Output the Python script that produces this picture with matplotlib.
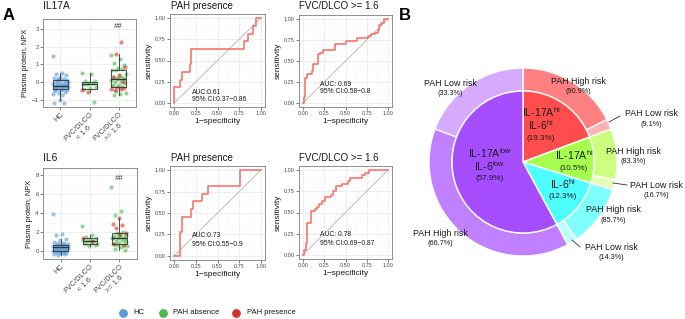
import numpy as np
import matplotlib
matplotlib.use('Agg')
import matplotlib.pyplot as plt

plt.rcParams['font.family'] = ['Liberation Sans', 'DejaVu Sans']
plt.rcParams['mathtext.fontset'] = 'custom'
plt.rcParams['mathtext.rm'] = 'Liberation Sans'
plt.rcParams['mathtext.it'] = 'Liberation Sans:italic'
plt.rcParams['mathtext.bf'] = 'Liberation Sans:bold'

# ---------------- data ----------------
groups = ['HC', 'FVC/DLCO\n< 1.6', 'FVC/DLCO\n>= 1.6']

hc_il17a = [1.48, 0.52, 0.45, 0.38, 0.30, 0.22, 0.15, 0.10, 0.11, 0.09, 0.0, -0.03, -0.06,
            -0.09, -0.12, -0.14, -0.17, -0.19, -0.21, -0.23, -0.25, -0.27, -0.29, -0.31,
            -0.33, -0.36, -0.38, -0.40, -0.42, -0.45, -0.48, -0.52, -0.56, -0.60, -0.66,
            -0.72, 0.12, -0.15, -1.00, -1.18, -1.22, 0.18, -0.02, -0.22, -0.35]
lt_il17a_pah_abs = [0.50, 0.47, 0.08, 0.03, -0.05, -0.10, -0.08, -0.12, -0.30, -0.36, -0.40, -1.15]
lt_il17a_pah_pres = [-0.58, -0.45]
ge_il17a_pah_abs = [1.55, 1.30, 1.10, 0.95, 0.78, 0.70, 0.74, 0.68, 0.45, 0.35, 0.28, 0.22,
                    0.18, 0.12, 0.08, 0.0, -0.08, -0.15, -0.22, -0.28, -0.50, -0.60, -0.68,
                    -0.75, 0.15, 0.25, -0.20]
ge_il17a_pah_pres = [2.25, 1.60, 0.85, 0.40, 0.30, 0.02, -0.30, -0.38, -0.42, -0.48, -0.35]

hc_il6 = [3.90, 1.80, 1.72, 1.30, 1.15, 1.00, 0.92, 0.85, 0.80, 0.76, 0.72, 0.68, 0.64,
          0.60, 0.56, 0.52, 0.48, 0.45, 0.42, 0.40, 0.38, 0.35, 0.46, 0.28, 0.25, 0.22,
          0.18, 0.15, 0.12, 0.10, 0.08, 0.06, 0.04, 0.02, 0.0, -0.05, -0.10, -0.15,
          -0.20, -0.25, -0.30, -0.35, 0.55, 0.50, 0.58]
lt_il6_pah_abs = [2.65, 1.75, 1.50, 1.40, 1.30, 1.20, 1.08, 1.05, 0.78, 0.85, 0.80, 0.65, 0.55]
lt_il6_pah_pres = [1.45, 1.10]
ge_il6_pah_abs = [6.80, 4.30, 3.80, 1.20, 1.70, 1.40, 2.00, 1.95, 1.75, 1.65, 1.58, 1.50,
                  1.45, 1.38, 1.25, 1.10, 1.00, 0.90, 0.75, 0.70, 0.65, 0.55, 0.45, 0.30, 0.10]
ge_il6_pah_pres = [3.50, 2.85, 2.78, 2.45, 1.90, 1.80, 0.74, 0.72]

roc_il17a_pah_fpr = [0, 0, 0.067, 0.09, 0.176, 0.196, 0.81, 0.85, 0.91, 0.95, 1.0]
roc_il17a_pah_tpr = [0, 0.182, 0.273, 0.364, 0.455, 0.636, 0.727, 0.818, 0.909, 1.0, 1.0]
roc_il17a_fvc_fpr = [0, 0.01, 0.02, 0.04, 0.10, 0.12, 0.17, 0.20, 0.23, 0.37, 0.50, 0.64,
                     0.77, 0.80, 0.85, 0.89, 0.90, 0.92, 0.95, 1.0]
roc_il17a_fvc_tpr = [0, 0.07, 0.30, 0.35, 0.38, 0.47, 0.58, 0.60, 0.63, 0.70, 0.74, 0.78,
                     0.80, 0.82, 0.84, 0.87, 0.93, 0.96, 1.0, 1.0]
roc_il6_pah_fpr = [0, 0.067, 0.086, 0.196, 0.216, 0.325, 0.39, 0.765, 1.0]
roc_il6_pah_tpr = [0, 0.273, 0.455, 0.545, 0.636, 0.727, 0.818, 1.0, 1.0]
roc_il6_fvc_fpr = [0, 0.011, 0.03, 0.046, 0.095, 0.134, 0.16, 0.19, 0.218, 0.26, 0.324,
                   0.35, 0.39, 0.458, 0.527, 0.553, 0.695, 0.733, 0.78, 1.0]
roc_il6_fvc_tpr = [0, 0.055, 0.145, 0.37, 0.52, 0.54, 0.56, 0.60, 0.635, 0.68, 0.71, 0.75,
                   0.81, 0.84, 0.87, 0.91, 0.94, 0.97, 1.0, 1.0]

roc_auc = ['AUC:0.61', 'AUC: 0.69', 'AUC:0.73', 'AUC: 0.78']
roc_ci = ['95% CI:0.37\u22120.86', '95% CI:0.58\u22120.8', '95% CI:0.55\u22120.9', '95% CI:0.69\u22120.87']

clusters = ['IL-17A$^{\\rm hi}$\nIL-6$^{\\rm hi}$', 'IL-17A$^{\\rm hi}$', 'IL-6$^{\\rm hi}$',
            'IL-17A$^{\\rm low}$\nIL-6$^{\\rm low}$']
cluster_pct = [19.3, 10.5, 12.3, 57.9]
high_risk_pct = [90.9, 83.3, 85.7, 66.7]
low_risk_pct = [9.1, 16.7, 14.3, 33.3]

legend_labels = ['HC', 'PAH absence', 'PAH presence']

# ---------------- style ----------------
W, H = 685, 319
fig = plt.figure(figsize=(W / 100, H / 100), dpi=100)
BLUE, GREEN, RED = '#5B9BD5', '#4DB84D', '#D3352A'
TXT = '#1A1A1A'
TICK = '#4D4D4D'


def px_axes(x0, y0, x1, y1):
    return fig.add_axes([x0 / W, 1 - y1 / H, (x1 - x0) / W, (y1 - y0) / H])


def style(ax):
    for s in ax.spines.values():
        s.set_color('#7F7F7F')
        s.set_linewidth(0.6)
    ax.tick_params(which='major', length=2, width=0.5, color=TICK, labelsize=4,
                   labelcolor=TICK, pad=1)
    ax.tick_params(which='minor', length=0)
    ax.grid(True, which='major', color='#EBEBEB', lw=0.6)
    ax.grid(True, which='minor', color='#F5F5F5', lw=0.4)
    ax.set_axisbelow(True)


def jitter(n, width, start=0):
    return ((np.arange(start, start + n) * 0.6180339887) % 1.0 - 0.5) * 2 * width


def box_panel(ax, hc, lt_a, lt_p, ge_a, ge_p, ylim, yticks, yminor, ann_y):
    sets = [(1, hc, BLUE, 0), (2, lt_a, GREEN, 0), (2, lt_p, RED, len(lt_a)),
            (3, ge_a, GREEN, 0), (3, ge_p, RED, len(ge_a))]
    for pos, vals, c, st in sets:
        ax.scatter(pos + jitter(len(vals), 0.27, st), vals, s=9, color=c, alpha=0.6,
                   lw=0, zorder=2)
    ax.boxplot([hc, lt_a + lt_p, ge_a + ge_p], positions=[1, 2, 3], widths=0.5,
               showfliers=False, showcaps=False,
               boxprops=dict(color='#333333', lw=0.6),
               whiskerprops=dict(color='#333333', lw=0.6),
               medianprops=dict(color='#333333', lw=0.9), zorder=3)
    ax.set_xlim(0.4, 3.6)
    ax.set_ylim(*ylim)
    ax.set_yticks(yticks)
    ax.set_yticks(yminor, minor=True)
    ax.tick_params(axis='y', labelsize=4.4)
    ax.set_xticks([1, 2, 3])
    ax.set_xticklabels(groups, rotation=45, ha='right', rotation_mode='anchor',
                       fontsize=5.4, color=TICK, multialignment='center')
    ax.set_ylabel('Plasma protein, NPX', fontsize=5.3, color=TXT, labelpad=2)
    ax.text(3, ann_y, '##', fontsize=5.5, ha='center', va='center', color='#333333',
            style='italic')


def roc_panel(ax, fpr, tpr, auc, ci, y_auc, y_ci):
    ax.plot([0, 1], [0, 1], color='#A6A6A6', lw=0.5, zorder=2)
    ax.step(fpr, tpr, where='post', color='#F8766D', lw=1.2, zorder=3)
    ax.set_xlim(-0.05, 1.05)
    ax.set_ylim(-0.05, 1.05)
    t = [0, 0.25, 0.5, 0.75, 1.0]
    tl = ['0.00', '0.25', '0.50', '0.75', '1.00']
    ax.set_xticks(t)
    ax.set_xticklabels(tl)
    ax.set_yticks(t)
    ax.set_yticklabels(tl)
    m = [0.125, 0.375, 0.625, 0.875]
    ax.set_xticks(m, minor=True)
    ax.set_yticks(m, minor=True)
    ax.text(0.2, y_auc, auc, fontsize=4.9, color=TXT, va='center')
    ax.text(0.2, y_ci, ci, fontsize=4.9, color=TXT, va='center')
    ax.set_ylabel('sensitivity', fontsize=6, color=TXT, labelpad=1.5)
    ax.set_xlabel('1\u2212specificity', fontsize=6, color=TXT, labelpad=1)


# ---------------- panel A ----------------
b1 = px_axes(43, 19, 136, 107)
style(b1)
box_panel(b1, hc_il17a, lt_il17a_pah_abs, lt_il17a_pah_pres, ge_il17a_pah_abs,
          ge_il17a_pah_pres, (-1.42, 3.57), [-1, 0, 1, 2, 3], [-0.5, 0.5, 1.5, 2.5, 3.5], 3.15)
b2 = px_axes(43, 168, 137, 259)
style(b2)
box_panel(b2, hc_il6, lt_il6_pah_abs, lt_il6_pah_pres, ge_il6_pah_abs, ge_il6_pah_pres,
          (-0.8, 8.77), [0, 2, 4, 6, 8], [1, 3, 5, 7], 7.65)

r1 = px_axes(170, 14, 265, 107)
style(r1)
roc_panel(r1, roc_il17a_pah_fpr, roc_il17a_pah_tpr, roc_auc[0], roc_ci[0], 0.125, 0.035)
r2 = px_axes(299, 15, 392, 107)
style(r2)
roc_panel(r2, roc_il17a_fvc_fpr, roc_il17a_fvc_tpr, roc_auc[1], roc_ci[1], 0.22, 0.13)
r3 = px_axes(170, 166, 265, 260)
style(r3)
roc_panel(r3, roc_il6_pah_fpr, roc_il6_pah_tpr, roc_auc[2], roc_ci[2], 0.235, 0.137)
r4 = px_axes(299, 166, 392, 259)
style(r4)
roc_panel(r4, roc_il6_fvc_fpr, roc_il6_fvc_tpr, roc_auc[3], roc_ci[3], 0.235, 0.137)

# ---------------- panel B (pie) ----------------
CX, CY, R = 523, 162, 94
pax = px_axes(CX - 100, CY - 100, CX + 100, CY + 100)
inner_cols = ['#FF4D4D', '#A6FF4D', '#4DFFFF', '#A64DFF']
outer_cols = ['#FF8080', '#FFB3B3', '#CCFF80', '#E2FFB8', '#80FFFF', '#B8FFFF',
              '#C080FF', '#D6AAFF']
outer_vals = []
for v, h, l in zip(cluster_pct, high_risk_pct, low_risk_pct):
    outer_vals += [v * h / 100, v * l / 100]
rin = 71 / R
pax.pie(outer_vals, radius=1.0, startangle=90, counterclock=False, colors=outer_cols,
        wedgeprops=dict(width=1 - rin, edgecolor='white', linewidth=1))
pax.pie(cluster_pct, radius=rin, startangle=90, counterclock=False, colors=inner_cols,
        wedgeprops=dict(edgecolor='white', linewidth=1))
pax.set_xlim(-100 / R, 100 / R)
pax.set_ylim(-100 / R, 100 / R)
pax.axis('off')

# overlay for free text in pixel coordinates
ov = fig.add_axes([0, 0, 1, 1])
ov.set_xlim(0, W)
ov.set_ylim(H, 0)
ov.axis('off')

ov.text(3, 16, 'A', fontsize=12, fontweight='bold', va='center', ha='left', color='black')
ov.text(399, 15, 'B', fontsize=12, fontweight='bold', va='center', ha='left', color='black')
ov.text(43, 6, 'IL17A', fontsize=7.4, va='center', ha='left', color=TXT)
ov.text(43, 158, 'IL6', fontsize=7.4, va='center', ha='left', color=TXT)
ov.text(171, 6, 'PAH presence', fontsize=7, va='center', ha='left', color=TXT)
ov.text(299, 6, 'FVC/DLCO >= 1.6', fontsize=7, va='center', ha='left', color=TXT)
ov.text(171, 158, 'PAH presence', fontsize=7, va='center', ha='left', color=TXT)
ov.text(299, 158, 'FVC/DLCO >= 1.6', fontsize=7, va='center', ha='left', color=TXT)

# legend
for (lx, tx), lab, c in zip([(123, 133), (163, 173), (236, 247)], legend_labels,
                            [BLUE, GREEN, RED]):
    ov.scatter([lx], [313], s=40, color=c, lw=0)
    ov.text(tx, 313, lab, fontsize=5.5, va='center', ha='left', color=TXT)

# inner labels (first baseline per cluster)
inner_pos = [(541, 117), (574, 160), (563, 189), (490, 157.5)]
for (x, y), name, p in zip(inner_pos, clusters, cluster_pct):
    lines = name.split('\n')
    for i, line in enumerate(lines):
        ov.text(x, y + i * 13.5, line, fontsize=7.6, ha='center', va='baseline', color=TXT)
    ov.text(x, y + (len(lines) - 1) * 13.5 + 9.5, '(%.1f%%)' % p, fontsize=5.8,
            ha='center', va='baseline', color=TXT)

# outer labels: (high pos, low pos) per cluster
high_pos = [(578, 86), (633, 156), (613, 215), (440, 238)]
low_pos = [(651, 119), (656, 190), (611, 252), (450, 88)]
for (x, y), p in zip(high_pos, high_risk_pct):
    ov.text(x, y - 5, 'PAH High risk', fontsize=6.4, ha='center', va='center', color=TXT)
    ov.text(x, y + 5.5, '(%.1f%%)' % p, fontsize=5.2, ha='center', va='center', color=TXT)
for (x, y), p in zip(low_pos, low_risk_pct):
    ov.text(x, y - 5, 'PAH Low risk', fontsize=6.4, ha='center', va='center', color=TXT)
    ov.text(x, y + 5.5, '(%.1f%%)' % p, fontsize=5.2, ha='center', va='center', color=TXT)
for (x0, y0, x1, y1) in [(609, 122, 620, 116), (613, 183, 627, 185), (572, 240, 580, 247)]:
    ov.plot([x0, x1], [y0, y1], color='#333333', lw=0.6)

fig.savefig('out.png', dpi=100)
